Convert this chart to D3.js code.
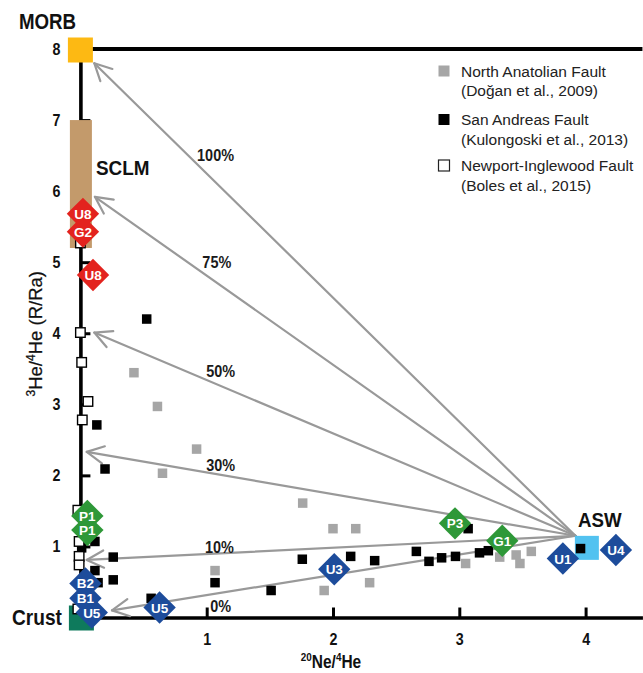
<!DOCTYPE html>
<html>
<head>
<meta charset="utf-8">
<script src="https://cdn.jsdelivr.net/npm/d3@7"></script>
<style>
  html, body { margin: 0; padding: 0; background: #fff; }
  svg { display: block; }
  text { font-family: "Liberation Sans", Arial, Helvetica, sans-serif; }
</style>
</head>
<body>
<svg id="chart" width="643" height="673"></svg>
<script>
// ---------- data (x = 20Ne/4He, y = 3He/4He in R/Ra) ----------
const northAnatolian = [
  [0.424, 3.445], [0.61, 2.97], [0.92, 2.37], [0.65, 2.03], [1.066, 0.66],
  [1.76, 1.61], [2.0, 1.25], [2.18, 1.25], [1.93, 0.38], [2.29, 0.49],
  [3.05, 0.76], [3.32, 0.85], [3.45, 0.88], [3.48, 0.76], [3.57, 0.93]
];
const sanAndreas = [
  [0.525, 4.20], [0.13, 2.71], [0.195, 2.09], [0.115, 1.07], [0.01, 0.98],
  [0.26, 0.85], [0.115, 0.66], [0.26, 0.53], [0.14, 0.49], [0.56, 0.27],
  [1.066, 0.49], [1.51, 0.38], [1.757, 0.82], [2.14, 0.86], [2.33, 0.80],
  [2.66, 0.93], [2.76, 0.79], [2.86, 0.84], [2.97, 0.86], [3.07, 1.25],
  [3.16, 0.91], [3.23, 0.94], [3.96, 0.97]
];
const newportInglewood = [
  [0.0, 5.27], [0.0, 4.01], [0.01, 3.59], [0.06, 3.04], [0.015, 2.78],
  [-0.02, 1.51], [-0.01, 1.07], [-0.01, 0.86], [-0.01, 0.74], [-0.02, 0.12]
];

// labelled samples: name, group, Ne/He, R/Ra
const sampleNames  = ["U8", "G2", "U8", "P1", "P1", "P3", "G1", "B2", "B1", "U5", "U5", "U3", "U1", "U4"];
const sampleGroups = ["red", "red", "red", "green", "green", "green", "green", "blue", "blue", "blue", "blue", "blue", "blue", "blue"];
const sampleNe     = [0.02, 0.02, 0.10, 0.055, 0.055, 2.966, 3.34, 0.04, 0.04, 0.09, 0.627, 2.01, 3.82, 4.24];
const sampleRa     = [5.68, 5.43, 4.82, 1.43, 1.23, 1.325, 1.08, 0.48, 0.27, 0.07, 0.14, 0.68, 0.83, 0.95];

// end members
const morb  = [0, 8];
const sclm  = [0, 5.2, 7];       // x, low, high
const crust = [0, 0];
const asw   = [4.01, 0.98];

// mixing lines between air-saturated water and the mantle/crust
const mixOrigin = [3.92, 1.15];
const mixLabels = ["100%", "75%", "50%", "30%", "10%", "0%"];
const mixEnds   = [[0.11, 7.80], [0.115, 5.92], [0.11, 4.01], [0.05, 2.33], [0.05, 0.81], [0.25, 0.10]];
const mixLabelAt = [[1.07, 6.51], [1.08, 5.0], [1.11, 3.47], [1.11, 2.14], [1.10, 0.99], [1.11, 0.16]];

const xTicks = [1, 2, 3, 4];
const yTicks = [1, 2, 3, 4, 5, 6, 7, 8];

const legendNames = [
  ["North Anatolian Fault", "(Doğan et al., 2009)"],
  ["San Andreas Fault", "(Kulongoski et al., 2013)"],
  ["Newport-Inglewood Fault", "(Boles et al., 2015)"]
];

// ---------- layout ----------
const svg = d3.select("#chart");
const x = d3.scaleLinear().domain([0, 4.45]).range([80.4, 80.4 + 4.45 * 126.3]);
const y = d3.scaleLinear().domain([0, 8]).range([617.5, 49]);

const groupColor = { red: "#e3231e", green: "#2e9838", blue: "#1d4c9b" };
const GRAY = "#a6a6a6";
const NARROW = 0.84;

// condensed bold text helper
function narrowText(parent, px, py, str, size, anchor, k) {
  const g = parent.append("g").attr("transform", `translate(${px},${py}) scale(${k || NARROW},1)`);
  return g.append("text")
    .attr("text-anchor", anchor || "start")
    .attr("font-weight", "bold")
    .attr("font-size", size)
    .attr("fill", "#111")
    .text(str);
}

// ---------- axes ----------
const xAxis = svg.append("g")
  .attr("transform", `translate(0,${y(0)})`)
  .call(d3.axisBottom(x).tickValues(xTicks).tickFormat(d3.format("d"))
    .tickSizeInner(-10).tickSizeOuter(0).tickPadding(15));
xAxis.select(".domain").attr("stroke", "#000").attr("stroke-width", 3.6);
xAxis.selectAll(".tick line").attr("stroke", "#000").attr("stroke-width", 3);
xAxis.selectAll(".tick text")
  .attr("font-size", 17).attr("font-weight", "bold").attr("fill", "#111")
  .attr("font-family", "'Liberation Sans', Arial, sans-serif")
  .attr("transform", `scale(${NARROW},1)`);

const yAxis = svg.append("g")
  .attr("transform", `translate(${x(0)},0)`)
  .call(d3.axisLeft(y).tickValues(yTicks).tickFormat(d3.format("d"))
    .tickSizeInner(-10).tickSizeOuter(0).tickPadding(20));
yAxis.select(".domain").attr("stroke", "#000").attr("stroke-width", 3.6);
yAxis.selectAll(".tick line").attr("stroke", "#000").attr("stroke-width", 3);
yAxis.selectAll(".tick text")
  .attr("font-size", 17).attr("font-weight", "bold").attr("fill", "#111")
  .attr("font-family", "'Liberation Sans', Arial, sans-serif")
  .attr("transform", `translate(-20,0) scale(${NARROW},1) translate(20,0)`);

// MORB reference line across the top
svg.append("line")
  .attr("x1", x(0)).attr("x2", x(4.45))
  .attr("y1", y(morb[1])).attr("y2", y(morb[1]))
  .attr("stroke", "#000").attr("stroke-width", 3.8);

// axis titles
const yt = svg.append("text")
  .attr("transform", `translate(41.5,${y(4) + 0.5}) rotate(-90)`)
  .attr("text-anchor", "middle").attr("font-size", 18.5).attr("fill", "#111")
  .attr("stroke", "#111").attr("stroke-width", 0.25);
yt.append("tspan").attr("font-size", 12).attr("dy", -7).text("3");
yt.append("tspan").attr("dy", 7).text("He/");
yt.append("tspan").attr("font-size", 12).attr("dy", -7).text("4");
yt.append("tspan").attr("dy", 7).text("He (R/Ra)");

const xtG = svg.append("g").attr("transform", `translate(331,668) scale(0.86,1)`);
const xt = xtG.append("text").attr("text-anchor", "middle").attr("font-size", 18)
  .attr("font-weight", "bold").attr("fill", "#111");
xt.append("tspan").attr("font-size", 11.5).attr("dy", -7).text("20");
xt.append("tspan").attr("dy", 7).text("Ne/");
xt.append("tspan").attr("font-size", 11.5).attr("dy", -7).text("4");
xt.append("tspan").attr("dy", 7).text("He");

// ---------- end-member boxes ----------
svg.append("rect")
  .attr("x", x(sclm[0]) - 10.5).attr("width", 22)
  .attr("y", y(sclm[2])).attr("height", y(sclm[1]) - y(sclm[2]))
  .attr("fill", "#c39a6b");
svg.append("rect")
  .attr("x", x(morb[0]) - 12.5).attr("y", y(morb[1]) - 11.5)
  .attr("width", 25).attr("height", 25).attr("fill", "#fdb913");
svg.append("rect")
  .attr("x", x(crust[0]) - 11.5).attr("y", y(crust[1]) - 12)
  .attr("width", 25).attr("height", 25).attr("fill", "#0e7a5c");

narrowText(svg, 19, 29, "MORB", 22, "start", 0.85);
narrowText(svg, 96, 174.5, "SCLM", 21, "start", 0.9);
narrowText(svg, 12, 625, "Crust", 22, "start", 0.87);

// ---------- data squares ----------
const SQ = 9.5;
function squares(data, fill, stroke, size) {
  svg.append("g").selectAll("rect").data(data).join("rect")
    .attr("x", d => x(d[0]) - size / 2).attr("y", d => y(d[1]) - size / 2)
    .attr("width", size).attr("height", size)
    .attr("fill", fill).attr("stroke", stroke).attr("stroke-width", stroke === "none" ? 0 : 1.4);
}
squares(northAnatolian, GRAY, "none", SQ);

// ---------- mixing lines with open arrowheads ----------
const mixG = svg.append("g").attr("fill", "none").attr("stroke", "#999").attr("stroke-width", 2.2)
  .attr("stroke-linecap", "round").attr("stroke-linejoin", "round");
mixEnds.forEach(e => {
  const x0 = x(mixOrigin[0]), y0 = y(mixOrigin[1]);
  const x1 = x(e[0]), y1 = y(e[1]);
  mixG.append("line").attr("x1", x0).attr("y1", y0).attr("x2", x1).attr("y2", y1);
  const ang = Math.atan2(y0 - y1, x0 - x1);
  const L = 19, th = 0.47;
  const a1 = [x1 + L * Math.cos(ang + th), y1 + L * Math.sin(ang + th)];
  const a2 = [x1 + L * Math.cos(ang - th), y1 + L * Math.sin(ang - th)];
  mixG.append("path").attr("d", `M${a1[0]},${a1[1]}L${x1},${y1}L${a2[0]},${a2[1]}`);
});
mixLabels.forEach((t, i) => {
  narrowText(svg, x(mixLabelAt[i][0]), y(mixLabelAt[i][1]) + 6, t, 17, "middle", 0.85).attr("fill", "#1a1a1a");
});

// ASW end member
svg.append("rect")
  .attr("x", x(asw[0]) - 12).attr("y", y(asw[1]) - 12)
  .attr("width", 24).attr("height", 24).attr("fill", "#52c2f0");
narrowText(svg, 578, 527, "ASW", 21, "start", 0.89);

squares(sanAndreas, "#000", "none", SQ);
squares(newportInglewood, "#fff", "#000", 9.5);

// ---------- labelled samples: all diamonds first, then all names on top ----------
const R = 16.2;
const idx = sampleNames.map((n, i) => i);
svg.append("g").selectAll("path").data(idx).join("path")
  .attr("transform", i => `translate(${x(sampleNe[i])},${y(sampleRa[i])})`)
  .attr("d", `M0,${-R}L${R},0L0,${R}L${-R},0Z`)
  .attr("fill", i => groupColor[sampleGroups[i]]);
svg.append("g").selectAll("text").data(idx).join("text")
  .attr("x", i => x(sampleNe[i])).attr("y", i => y(sampleRa[i]))
  .attr("text-anchor", "middle").attr("dy", 5)
  .attr("font-size", 13.5).attr("font-weight", "bold").attr("fill", "#fff")
  .text(i => sampleNames[i]);

// ---------- legend ----------
const lg = svg.append("g").attr("font-size", 15.5).attr("fill", "#222");
const legendStyles = [[GRAY, "none"], ["#000", "none"], ["#fff", "#222"]];
const legendTop = [71, 119.5, 165.5];
legendNames.forEach((lines, i) => {
  const top = legendTop[i];
  lg.append("rect").attr("x", 438.5).attr("y", top - 5.5).attr("width", 11).attr("height", 11)
    .attr("fill", legendStyles[i][0]).attr("stroke", legendStyles[i][1]).attr("stroke-width", 1.2);
  lg.append("text").attr("x", 461).attr("y", top + 5.5).text(lines[0]);
  lg.append("text").attr("x", 461).attr("y", top + 25).text(lines[1]);
});
</script>
</body>
</html>
